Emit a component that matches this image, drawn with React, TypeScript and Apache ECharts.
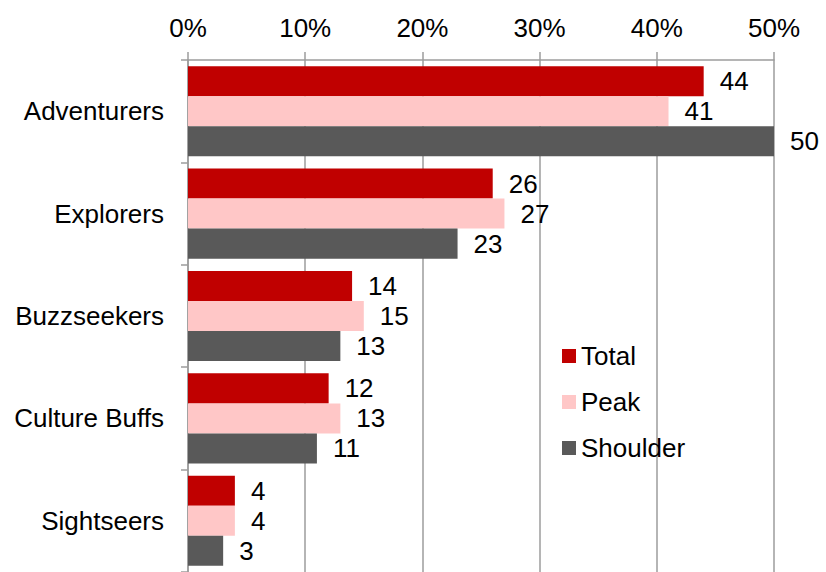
import React, { useEffect, useRef } from "react";
import * as echarts from "echarts";

const categories = ["Adventurers", "Explorers", "Buzzseekers", "Culture Buffs", "Sightseers"];
const totalValues = [44, 26, 14, 12, 4];
const peakValues = [41, 27, 15, 13, 4];
const shoulderValues = [50, 23, 13, 11, 3];
const xTicks = [0, 10, 20, 30, 40, 50];

const FONT = "'Liberation Sans', Arial, sans-serif";
const FS = 26;

export default function App() {
  const ref = useRef<HTMLDivElement>(null);
  useEffect(() => {
    if (!ref.current) return;
    const chart = echarts.init(ref.current, undefined, { renderer: "svg" });
    const mk = (name: string, data: number[], color: string) => ({
      name,
      type: "bar",
      data,
      barGap: "0%",
      barCategoryGap: "12%",
      itemStyle: { color },
      label: {
        show: true,
        position: "right",
        distance: 16,
        color: "#000",
        fontSize: FS,
        fontFamily: FONT,
      },
    });
    chart.setOption({
      animation: false,
      textStyle: { fontFamily: FONT },
      grid: { left: 188, right: 52, top: 60, bottom: -2, containLabel: false },
      legend: {
        orient: "vertical",
        left: 557,
        top: 338,
        itemWidth: 14,
        itemHeight: 14,
        itemGap: 20,
        icon: "rect",
        textStyle: { fontSize: FS, fontFamily: FONT, color: "#000" },
        data: ["Total", "Peak", "Shoulder"],
      },
      xAxis: {
        type: "value",
        position: "top",
        min: xTicks[0],
        max: xTicks[xTicks.length - 1],
        interval: 10,
        axisLine: { show: true, lineStyle: { color: "#9c9c9c", width: 1.5 } },
        axisTick: { show: true, length: 8, lineStyle: { color: "#9c9c9c", width: 1.5 } },
        splitLine: { show: true, lineStyle: { color: "#9c9c9c", width: 1.5 } },
        axisLabel: {
          formatter: "{value}%",
          fontSize: FS,
          fontFamily: FONT,
          color: "#000",
          margin: 19,
        },
      },
      yAxis: {
        type: "category",
        inverse: true,
        data: categories,
        axisLine: { show: true, lineStyle: { color: "#9c9c9c", width: 1.5 } },
        axisTick: { show: true, length: 7, lineStyle: { color: "#9c9c9c", width: 1.5 } },
        axisLabel: {
          fontSize: FS,
          fontFamily: FONT,
          color: "#000",
          margin: 24,
        },
      },
      series: [
        mk("Total", totalValues, "#C00000"),
        mk("Peak", peakValues, "#FFC7C7"),
        mk("Shoulder", shoulderValues, "#595959"),
      ],
    });
    return () => chart.dispose();
  }, []);
  return <div ref={ref} style={{ width: 826, height: 572, position: "absolute", left: 0, top: 0 }} />;
}
